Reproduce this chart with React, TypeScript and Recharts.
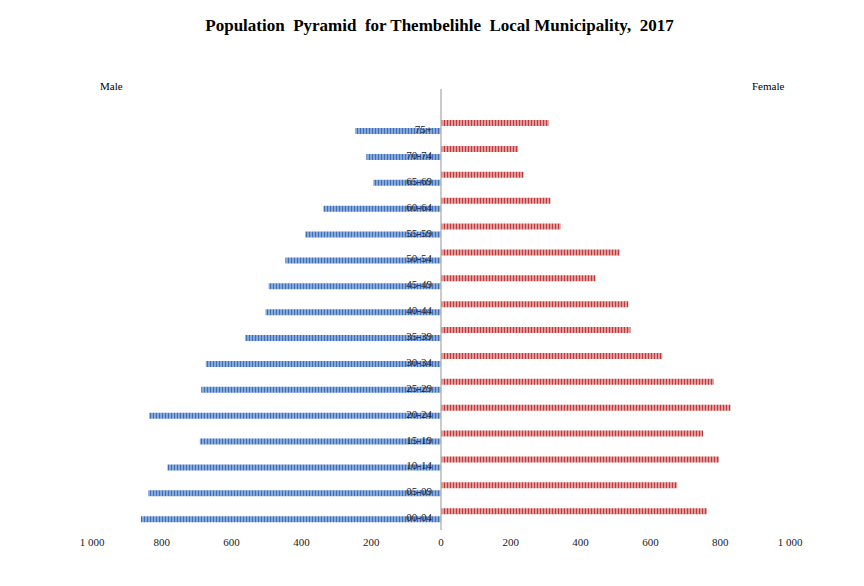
import React from "react";
import {
  BarChart,
  Bar,
  XAxis,
  YAxis,
  ReferenceLine,
  LabelList,
} from "recharts";

// age groups from the top of the pyramid down
const ageGroups = [
  "75+", "70-74", "65-69", "60-64", "55-59", "50-54", "45-49", "40-44",
  "35-39", "30-34", "25-29", "20-24", "15-19", "10-14", "05-09", "00-04",
];
const maleCounts = [
  246, 214, 194, 337, 389, 446, 494, 503,
  561, 674, 687, 836, 691, 784, 839, 860,
];
const femaleCounts = [
  309, 221, 237, 314, 343, 512, 443, 537,
  543, 634, 782, 830, 751, 797, 677, 762,
];
const xTicks = [-1000, -800, -600, -400, -200, 0, 200, 400, 600, 800, 1000];

// males go to the left as negative values
const data = ageGroups.map((age, i) => ({
  age,
  male: -maleCounts[i],
  female: femaleCounts[i],
}));

const SERIF = "'Liberation Serif', 'Times New Roman', serif";

const fmtTick = (v: number) => {
  const a = Math.abs(v);
  return a >= 1000 ? `${Math.floor(a / 1000)} ${String(a % 1000).padStart(3, "0")}` : String(a);
};

// age label sits just left of the zero line, on the male bar
const AgeLabel = (props: any) => {
  const { x, y, width, height, value } = props;
  const zero = Math.max(Number(x), Number(x) + Number(width));
  return (
    <text
      x={zero - 9}
      y={Number(y) + Number(height) - 1}
      textAnchor="end"
      fontFamily={SERIF}
      fontSize={11}
      fill="#1a1a1a"
    >
      {value}
    </text>
  );
};

export default function App() {
  return (
    <div
      style={{
        position: "relative",
        width: 864,
        height: 586,
        margin: -8,
        overflow: "hidden",
        background: "#fff",
        fontFamily: SERIF,
      }}
    >
      <div
        style={{
          position: "absolute",
          left: 5,
          top: 6,
          width: 900,
          height: 700,
          border: "1px solid #d4d4d4",
        }}
      />
      <div
        style={{
          position: "absolute",
          left: 0,
          width: 879,
          top: 16,
          textAlign: "center",
          fontSize: 17,
          fontWeight: "bold",
          whiteSpace: "pre",
          color: "#000",
        }}
      >
        {"Population  Pyramid  for Thembelihle  Local Municipality,  2017"}
      </div>
      <div style={{ position: "absolute", left: 100, top: 80, fontSize: 11 }}>Male</div>
      <div style={{ position: "absolute", left: 752, top: 80, fontSize: 11 }}>Female</div>
      <svg width={0} height={0} style={{ position: "absolute" }}>
        <defs>
          <pattern id="maleStripe" width={3} height={8} patternUnits="userSpaceOnUse">
            <rect width={3} height={8} fill="#86a8db" />
            <rect width={1} height={8} fill="#3f6fb6" />
          </pattern>
          <pattern id="femaleStripe" width={3} height={8} patternUnits="userSpaceOnUse">
            <rect width={3} height={8} fill="#e09a99" />
            <rect width={1} height={8} fill="#c0393b" />
          </pattern>
        </defs>
      </svg>
      <BarChart
        width={864}
        height={586}
        data={data}
        layout="vertical"
        margin={{ top: 89, right: 74, bottom: 26, left: 92 }}
        barSize={6}
        barGap={2}
        style={{ position: "absolute", left: 0, top: 0 }}
      >
        <XAxis
          type="number"
          domain={[-1000, 1000]}
          ticks={xTicks}
          tickFormatter={fmtTick}
          axisLine={false}
          tickLine={false}
          tick={{ fontFamily: SERIF, fontSize: 11, fill: "#1a1a1a" }}
          interval={0}
          height={30}
        />
        <YAxis
          type="category"
          dataKey="age"
          hide
          width={0}
          padding={{ top: 25, bottom: 2 }}
        />
        <ReferenceLine x={0} stroke="#b8b8b8" strokeWidth={1.5} />
        <Bar dataKey="female" fill="url(#femaleStripe)" isAnimationActive={false} />
        <Bar dataKey="male" fill="url(#maleStripe)" isAnimationActive={false}>
          <LabelList dataKey="age" content={AgeLabel} />
        </Bar>
      </BarChart>
    </div>
  );
}
